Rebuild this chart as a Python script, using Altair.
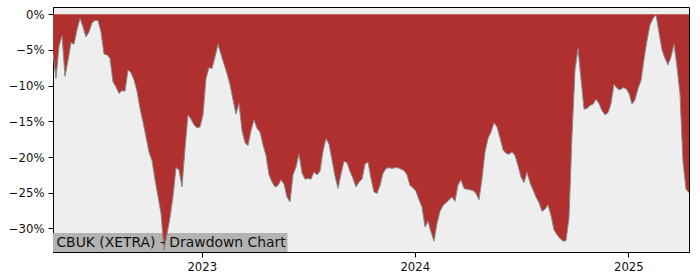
import altair as alt
import pandas as pd

title_text = "CBUK (XETRA) - Drawdown Chart"
start_date = "2022-04-21"
end_date = "2025-04-15"

drawdown = [
    -5.5, -9.0, -4.5, -3.0, -8.7, -6.5, -4.0, -4.2, -2.2, -0.6,
    -1.8, -3.2, -2.5, -1.2, -0.9, -0.9, -2.5, -5.6, -5.7, -6.2,
    -9.5, -10.2, -11.1, -10.7, -10.8, -7.8, -8.2, -9.2, -10.8, -13.2,
    -15.1, -17.2, -19.3, -20.5, -23.2, -25.5, -27.9, -33.0, -30.8, -28.5,
    -25.5, -21.5, -21.8, -24.2, -18.8, -14.1, -14.7, -15.5, -15.9, -15.8,
    -14.1, -9.0, -7.5, -7.6, -6.0, -4.2, -5.6, -7.0, -8.3, -9.9,
    -12.0, -14.0, -12.5, -16.3, -18.0, -18.4, -16.3, -14.8, -16.0, -16.5,
    -18.3, -19.8, -22.5, -23.5, -24.2, -24.0, -23.2, -23.8, -25.6, -26.3,
    -22.5, -21.4, -19.6, -22.2, -23.1, -23.0, -23.1, -22.1, -22.5, -22.0,
    -19.2, -17.4, -18.2, -20.4, -22.7, -24.4, -22.4, -20.6, -20.8, -22.0,
    -23.0, -24.2, -23.5, -23.1, -21.0, -20.7, -23.0, -24.9, -25.1, -24.0,
    -22.3, -21.6, -21.5, -21.6, -21.5, -21.5, -21.7, -21.9, -22.5, -24.0,
    -24.3, -24.8, -26.0, -27.0, -29.8, -29.0, -30.5, -31.8, -29.3, -27.6,
    -26.8, -26.4, -26.0, -25.6, -26.2, -23.9, -23.2, -24.4, -24.5, -24.6,
    -24.7, -25.1, -26.0, -23.0, -19.3, -17.4, -16.5, -15.2, -15.8, -17.3,
    -19.0, -19.5, -19.6, -19.3, -19.8, -21.2, -22.8, -23.6, -22.1, -23.6,
    -24.6, -25.6, -26.4, -27.6, -27.3, -26.7, -28.2, -30.2, -30.9, -31.4,
    -31.8, -31.7, -28.5, -17.0, -7.8, -4.8, -9.1, -13.3, -13.2, -12.8,
    -12.6, -11.9, -12.5, -13.5, -14.1, -13.8, -12.5, -9.8, -10.4, -10.6,
    -10.3, -10.4, -11.1, -12.6, -12.0, -10.4, -9.3, -6.3, -3.7, -1.5,
    -0.6, -0.1, -2.6, -5.0, -6.2, -7.1, -6.0, -4.2, -7.4, -11.2,
    -20.7, -24.5, -25.0,
]
y_ticks = [0, -5, -10, -15, -20, -25, -30]

dates = pd.date_range(start_date, end_date, periods=len(drawdown))
df = pd.DataFrame({"date": dates, "dd": drawdown})
label_df = pd.DataFrame({"label": [title_text]})

x_enc = alt.X(
    "date:T",
    scale=alt.Scale(nice=False),
    axis=alt.Axis(format="%Y", tickCount="year", title=None, grid=False),
)
y_enc = alt.Y(
    "dd:Q",
    scale=alt.Scale(domain=[-33.3, 1.0], nice=False, zero=False),
    axis=alt.Axis(
        values=y_ticks,
        labelExpr="replace(format(datum.value, 'd'), '-', '\u2212') + '%'",
        title=None,
        grid=False,
    ),
)

box = alt.Chart(label_df).mark_rect(color="#b3b3b3").encode(
    x=alt.value(0), x2=alt.value(234.5), y=alt.value(226), y2=alt.value(245)
)
area = alt.Chart(df).mark_area(color="#b03030", interpolate="linear", clip=True).encode(
    x=x_enc, y=y_enc, y2=alt.value(0)
)
line = alt.Chart(df).mark_line(color="#8a8a8a", strokeWidth=1, clip=True).encode(
    x="date:T", y="dd:Q"
)
text = alt.Chart(label_df).mark_text(
    align="left", baseline="alphabetic", fontSize=13.9, font="DejaVu Sans", color="#111111"
).encode(x=alt.value(3.4), y=alt.value(239.7), text="label:N")

chart = (
    alt.layer(box, area, line, text)
    .properties(
        width=636,
        height=245,
        autosize="none",
        padding={"left": 53, "top": 7, "right": 11, "bottom": 28},
        background="white",
    )
    .configure_view(stroke="black", strokeWidth=1, fill="#eeeeee")
    .configure_axis(
        labelFont="DejaVu Sans",
        labelFontSize=11.7,
        labelColor="#111111",
        tickColor="black",
        domainColor="black",
        tickSize=5,
        labelPadding=4,
        domainWidth=1,
        tickWidth=1,
    )
)

chart.save("out.html", embed_options={"renderer": "svg", "actions": False})
